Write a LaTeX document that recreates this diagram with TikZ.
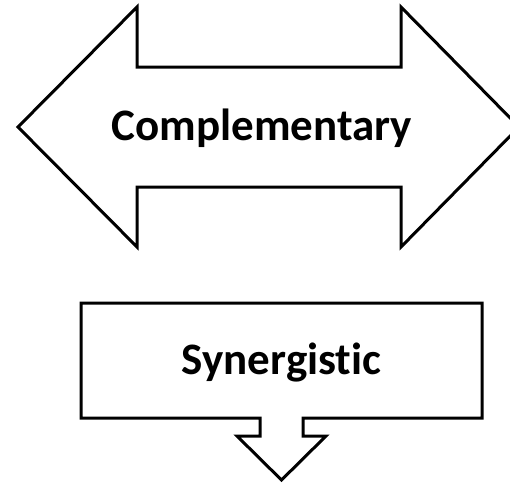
\documentclass[tikz,border=0pt]{standalone}
\usepackage{fontspec}
\setmainfont[Ligatures=NoCommon]{Carlito}
\usepackage{tikz}
\tikzstyle{shapeline}=[line width=3pt, line join=miter, black]
\tikzstyle{shapelabel}=[font=\fontsize{45}{54}\selectfont\bfseries, anchor=base, inner sep=0pt]

\begin{document}
\begin{tikzpicture}[x=1pt, y=-1pt]
	\clip (0,0) rectangle (510,482);
	\fill[white] (0,0) rectangle (510,482);
	% double arrow
	\draw[shapeline] (18,127) -- (137,7) -- (137,67) -- (401,67) -- (401,7) -- (519,127)
		-- (401,247) -- (401,187) -- (137,187) -- (137,247) -- cycle;
	\node[shapelabel] (compl) at (262,140) {Complementary};
	% box with down arrow
	\draw[shapeline] (81,303) -- (482,303) -- (482,418) -- (303,418) -- (303,436) -- (326,436)
		-- (281.5,480) -- (237,436) -- (260,436) -- (260,418) -- (81,418) -- cycle;
	\node[shapelabel] (syn) at (281.5,374) {Synergistic};
\end{tikzpicture}
\end{document}
